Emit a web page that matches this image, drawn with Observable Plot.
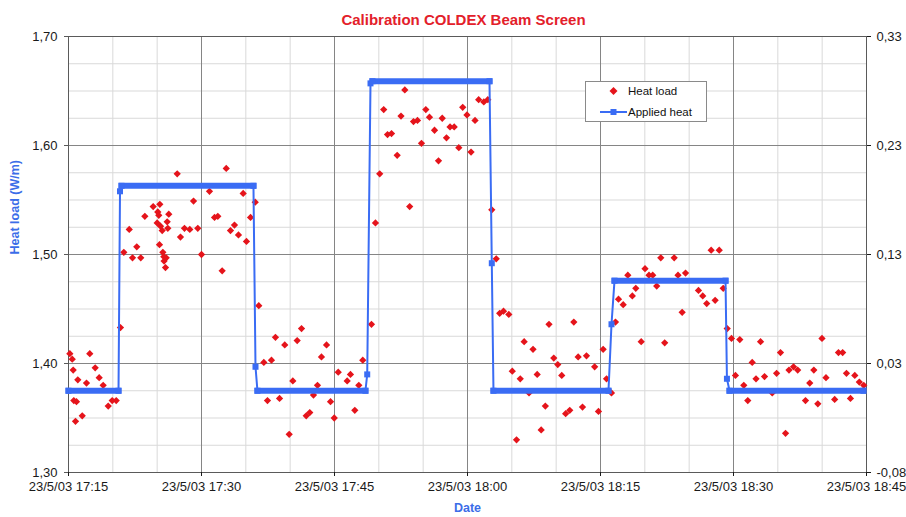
<!DOCTYPE html>
<html><head><meta charset="utf-8">
<script src="https://cdn.jsdelivr.net/npm/d3@7"></script>
<script src="https://cdn.jsdelivr.net/npm/@observablehq/plot@0.6"></script>
<style>
body{margin:0;background:#fff;font-family:"Liberation Sans",Arial,sans-serif;}
#wrap{position:relative;width:906px;height:517px;}
#legend{position:absolute;left:585px;top:81px;width:120px;height:39px;border:1px solid #8a8a8a;background:#fff;font-size:11.5px;color:#111;}
#legend .row{position:absolute;left:0;height:14px;}
#legend svg{position:absolute;left:12px;top:0;}
#legend span{position:absolute;left:42px;top:0;line-height:14px;white-space:nowrap;}
</style></head><body>
<div id="wrap"></div>
<script>
// ---- data ----
const startTime = new Date(2003, 4, 23, 17, 15); // 23/5/03 17:15
const rightOffset = 1.375; // right axis = left axis - 1.375

const xTickMinutes = [0, 15, 30, 45, 60, 75, 90];
const xTickLabels = ["23/5/03 17:15","23/5/03 17:30","23/5/03 17:45","23/5/03 18:00","23/5/03 18:15","23/5/03 18:30","23/5/03 18:45"];
const yTicks = [1.3, 1.4, 1.5, 1.6, 1.7];
const leftTickLabels = ["1,30","1,40","1,50","1,60","1,70"];
const rightTickLabels = ["-0,08","0,03","0,13","0,23","0,33"];

// Heat load (W/m), minutes after 17:15
const loadMinutes = [0.15,0.42,0.53,0.60,0.79,0.90,1.05,1.55,2.03,2.40,3.01,3.46,3.91,4.48,4.93,5.38,5.86,
 6.24,6.85,7.22,7.70,8.15,8.61,9.55,10.00,10.07,10.18,10.26,10.30,10.38,10.57,10.64,10.75,10.78,10.94,11.02,11.13,11.20,11.31,
 12.26,12.63,13.08,13.68,14.10,14.58,15.00,15.90,16.47,16.84,17.33,17.79,18.27,18.72,19.17,19.70,20.07,20.53,21.06,
 21.46,22.03,22.44,22.89,23.34,23.80,24.39,24.89,25.30,25.79,26.28,26.81,27.21,27.63,28.08,28.53,29.10,29.55,29.97,
 30.42,31.43,31.80,32.29,32.74,33.19,34.17,
 34.62,35.10,35.55,35.98,36.43,37.07,37.50,37.93,38.48,38.91,39.36,39.81,40.30,40.71,41.28,41.73,42.15,42.63,43.03,43.50,
 44.02,44.46,44.94,45.40,45.85,46.26,46.84,47.29,47.74,48.24,
 48.63,49.06,49.66,50.05,50.53,50.95,51.39,51.94,52.39,52.86,53.31,53.78,54.19,54.73,55.18,55.63,56.07,56.53,56.99,57.48,
 57.97,58.42,59.34,59.77,60.30,60.68,61.24,
 61.69,62.03,62.56,63.08,63.59,63.98,64.59,65.02,65.47,65.89,66.34,66.80,67.24,68.31,68.74,69.21,69.59,71.05,71.53,71.98,
 72.48,72.93,73.39,73.84,74.29,74.77,
 75.22,75.71,76.16,76.61,77.11,77.54,78.05,78.50,79.37,79.86,80.30,80.87,81.26,81.77,82.24,83.12,83.60,84.06,84.51,84.98,
 85.43,86.41,86.84,87.31,87.74,88.19,88.68,89.19,89.69];
const loadValues = [1.409,1.404,1.394,1.366,1.347,1.365,1.385,1.352,1.382,1.409,1.396,1.387,1.380,1.361,1.366,1.366,1.433,
 1.502,1.523,1.497,1.507,1.497,1.535,1.544,1.529,1.539,1.536,1.509,1.546,1.526,1.522,1.502,1.498,1.494,1.488,1.497,1.530,1.524,1.537,
 1.574,1.516,1.524,1.523,1.549,1.524,1.500,1.558,1.534,1.535,1.485,1.579,1.522,1.527,1.518,1.556,1.512,1.534,1.548,
 1.453,1.401,1.366,1.403,1.424,1.368,1.417,1.335,1.384,1.421,1.432,1.352,1.355,1.371,1.380,1.406,1.417,1.365,1.350,
 1.392,1.384,1.390,1.357,1.380,1.403,1.436,
 1.529,1.574,1.633,1.610,1.611,1.591,1.627,1.651,1.544,1.622,1.623,1.602,1.633,1.626,1.614,1.586,1.625,1.607,1.617,1.617,
 1.598,1.635,1.628,1.594,1.623,1.642,1.640,1.642,1.541,1.496,
 1.446,1.448,1.445,1.393,1.330,1.386,1.420,1.373,1.413,1.390,1.339,1.361,1.436,1.405,1.399,1.389,1.354,1.357,1.438,1.406,
 1.360,1.407,1.397,1.356,1.413,1.386,1.373,
 1.438,1.459,1.454,1.481,1.462,1.469,1.420,1.487,1.481,1.481,1.471,1.497,1.419,1.497,1.481,1.447,1.483,1.467,1.462,1.455,
 1.504,1.458,1.504,1.469,1.432,1.423,
 1.389,1.422,1.380,1.366,1.401,1.386,1.420,1.388,1.373,1.391,1.410,1.336,1.394,1.397,1.394,1.366,1.382,1.394,1.363,1.423,
 1.387,1.367,1.410,1.410,1.391,1.368,1.389,1.383,1.380];

// Applied heat (W/m, right axis), minutes after 17:15
const appliedMinutes = [0, 5.64, 5.81, 5.98, 20.86, 21.09, 21.31, 33.49, 33.69, 34.06, 34.28, 47.48, 47.74, 47.93, 60.9, 61.24, 61.58, 74.1, 74.26, 74.55, 89.65];
const appliedValues  = [0, 0, 0.183, 0.188, 0.188, 0.022, 0, 0, 0.015, 0.282, 0.284, 0.284, 0.117, 0, 0, 0.061, 0.101, 0.101, 0.011, 0, 0];

// ---- build ----
const RED = "#e5141b", BLUE = "#3a6cf4", TITLE_RED = "#e3202a", LABEL_BLUE = "#3b6de8";
const toDate = m => new Date(startTime.getTime() + m * 60000);
const load = loadMinutes.map((m, i) => ({t: toDate(m), v: loadValues[i]}));
const applied = appliedMinutes.map((m, i) => ({t: toDate(m), y: appliedValues[i] + rightOffset}));
const plateaus = [];
for (let i = 0; i < applied.length - 1; i++) {
  if (appliedValues[i] === appliedValues[i + 1]) plateaus.push({t1: applied[i].t, y1: applied[i].y, t2: applied[i + 1].t, y2: applied[i + 1].y});
}
const xTicks = xTickMinutes.map(toDate);
const xLabelMap = new Map(xTicks.map((d, i) => [d.getTime(), xTickLabels[i]]));
const minorX = d3.range(0, 91, 5).filter(m => m % 15 !== 0).map(toDate);
const minorY = d3.range(1.3, 1.7001, 0.025).filter(v => Math.abs(v * 10 - Math.round(v * 10)) > 1e-6);

const diamond = {draw(ctx, size) { const s = Math.sqrt(size / 2); ctx.moveTo(0, -s); ctx.lineTo(s, 0); ctx.lineTo(0, s); ctx.lineTo(-s, 0); ctx.closePath(); }};

const chart = Plot.plot({
  width: 906, height: 517,
  marginLeft: 68, marginRight: 40, marginTop: 36, marginBottom: 45,
  style: {fontFamily: '"Liberation Sans", Arial, sans-serif', fontSize: "13px", color: "#1a1a1a", background: "#fff", overflow: "visible"},
  x: {type: "time", domain: [toDate(0), toDate(90)]},
  y: {domain: [1.3, 1.7]},
  marks: [
    Plot.ruleY(minorY, {stroke: "#d9d9d9"}),
    Plot.ruleX(minorX, {stroke: "#d9d9d9"}),
    Plot.ruleY(yTicks, {stroke: "#858585"}),
    Plot.ruleX(xTicks, {stroke: "#858585"}),
    Plot.frame({stroke: "#5a5a5a"}),
    Plot.axisY({ticks: yTicks, tickFormat: d => leftTickLabels[yTicks.indexOf(d)], tickSize: 4, tickPadding: 7, label: null, stroke: "#5a5a5a"}),
    Plot.axisY({anchor: "right", ticks: yTicks, tickFormat: d => rightTickLabels[yTicks.indexOf(d)], tickSize: 4, tickPadding: 6, label: null}),
    Plot.axisX({ticks: xTicks, tickFormat: d => xLabelMap.get(d.getTime()), tickSize: 4, tickPadding: 5, label: null}),
    Plot.dot(load, {x: "t", y: "v", symbol: diamond, r: 2.9, fill: RED}),
    Plot.line(applied, {x: "t", y: "y", stroke: BLUE, strokeWidth: 2}),
    Plot.link(plateaus, {x1: "t1", y1: "y1", x2: "t2", y2: "y2", stroke: BLUE, strokeWidth: 6, strokeLinecap: "square"}),
    Plot.dot(applied, {x: "t", y: "y", symbol: "square", r: 3.39, fill: BLUE}),
    Plot.text(["Calibration COLDEX Beam Screen"], {frameAnchor: "top", dy: -22, dx: -4, fontSize: 15, fontWeight: "bold", fill: TITLE_RED}),
    Plot.text(["Heat load (W/m)"], {frameAnchor: "left", rotate: -90, dx: -54, fontSize: 12.5, fontWeight: "bold", fill: LABEL_BLUE}),
    Plot.text(["Date"], {frameAnchor: "bottom", dy: 39, fontSize: 12.5, fontWeight: "bold", fill: LABEL_BLUE})
  ]
});

const wrap = document.getElementById("wrap");
wrap.appendChild(chart);

// legend
const legend = document.createElement("div");
legend.id = "legend";
legend.innerHTML = `
  <div class="row" style="top:2px;width:120px">
    <svg width="30" height="14"><path d="M15.5,3 L19.5,7 L15.5,11 L11.5,7 Z" fill="${RED}"/></svg>
    <span>Heat load</span>
  </div>
  <div class="row" style="top:22.5px;width:120px">
    <svg width="30" height="14"><line x1="2" x2="29" y1="7" y2="7" stroke="${BLUE}" stroke-width="2"/><rect x="12.5" y="4" width="6" height="6" fill="${BLUE}"/></svg>
    <span>Applied heat</span>
  </div>`;
wrap.appendChild(legend);
</script>
</body></html>
